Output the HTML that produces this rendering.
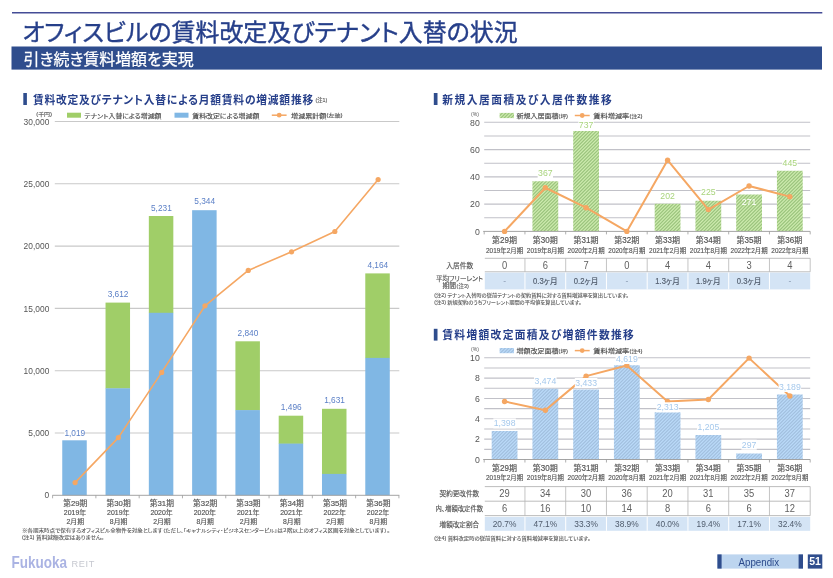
<!DOCTYPE html>
<html lang="ja"><head><meta charset="utf-8"><title>オフィスビルの賃料改定及びテナント入替の状況</title>
<style>html,body{margin:0;padding:0;background:#fff}body{width:833px;height:578px;overflow:hidden}svg{display:block}</style></head>
<body>
<svg width="833" height="578" viewBox="0 0 833 578" font-family='"Liberation Sans","Noto Sans CJK JP",sans-serif' style="font-feature-settings:'palt'">
<defs>
<pattern id="hg" width="34.0" height="34.0" patternUnits="userSpaceOnUse">
<rect width="34.0" height="34.0" fill="#cdebae"/><path d="M1.00,-1 L-1,1.00 M4.40,-1 L-1,4.40 M7.80,-1 L-1,7.80 M11.20,-1 L-1,11.20 M14.60,-1 L-1,14.60 M18.00,-1 L-1,18.00 M21.40,-1 L-1,21.40 M24.80,-1 L-1,24.80 M28.20,-1 L-1,28.20 M31.60,-1 L-1,31.60 M35.00,-1 L-1,35.00 M38.40,-1 L-1,38.40 M41.80,-1 L-1,41.80 M45.20,-1 L-1,45.20 M48.60,-1 L-1,48.60 M52.00,-1 L-1,52.00 M55.40,-1 L-1,55.40 M58.80,-1 L-1,58.80 M62.20,-1 L-1,62.20 M65.60,-1 L-1,65.60 M69.00,-1 L-1,69.00" stroke="#9bc47d" stroke-width="1.2"/></pattern>
<pattern id="hb" width="34.0" height="34.0" patternUnits="userSpaceOnUse">
<rect width="34.0" height="34.0" fill="#badaf9"/><path d="M1.00,-1 L-1,1.00 M4.40,-1 L-1,4.40 M7.80,-1 L-1,7.80 M11.20,-1 L-1,11.20 M14.60,-1 L-1,14.60 M18.00,-1 L-1,18.00 M21.40,-1 L-1,21.40 M24.80,-1 L-1,24.80 M28.20,-1 L-1,28.20 M31.60,-1 L-1,31.60 M35.00,-1 L-1,35.00 M38.40,-1 L-1,38.40 M41.80,-1 L-1,41.80 M45.20,-1 L-1,45.20 M48.60,-1 L-1,48.60 M52.00,-1 L-1,52.00 M55.40,-1 L-1,55.40 M58.80,-1 L-1,58.80 M62.20,-1 L-1,62.20 M65.60,-1 L-1,65.60 M69.00,-1 L-1,69.00" stroke="#a2c0df" stroke-width="1.2"/></pattern>
<filter id="bl" x="-1%" y="-5%" width="102%" height="110%"><feGaussianBlur stdDeviation="0.42"/></filter>
</defs>
<rect x="0.00" y="0.00" width="833.00" height="578.00" fill="#ffffff" />
<line x1="12.00" y1="12.70" x2="822.30" y2="12.70" stroke="#444c96" stroke-width="1.6" />
<text x="22.30" y="41.32" font-size="24" fill="#263f8a" textLength="495.50" lengthAdjust="spacingAndGlyphs" stroke="#263f8a" stroke-width="0.4">オフィスビルの賃料改定及びテナント入替の状況</text>
<rect x="11.50" y="46.50" width="810.50" height="23.10" fill="#2f4d8d" />
<text x="23.60" y="64.58" font-size="16" fill="#ffffff" textLength="170.00" lengthAdjust="spacingAndGlyphs" stroke="#ffffff" stroke-width="0.25">引き続き賃料増額を実現</text>
<rect x="23.30" y="93.00" width="3.60" height="12.00" fill="#2f4d8d" />
<text transform="translate(32.90 0) scale(0.92 1)" x="0" y="104.05" font-size="11.7" fill="#263f8a" font-weight="bold" textLength="304.67" lengthAdjust="spacing">賃料改定及びテナント入替による月額賃料の増減額推移</text>
<text x="315.40" y="102.18" font-size="5.2" fill="#555555" textLength="12.00" lengthAdjust="spacingAndGlyphs"  stroke="#555555" stroke-width="0.11">(注1)</text>
<text transform="translate(49.30 0) scale(0.97 1)" x="0" y="498.47" font-size="8.67" fill="#555555" text-anchor="end">0</text>
<line x1="54.80" y1="433.00" x2="399.30" y2="433.00" stroke="#c9c9c9" stroke-width="1.1" />
<text transform="translate(49.30 0) scale(0.97 1)" x="0" y="436.17" font-size="8.67" fill="#555555" text-anchor="end">5,000</text>
<line x1="54.80" y1="370.70" x2="399.30" y2="370.70" stroke="#c9c9c9" stroke-width="1.1" />
<text transform="translate(49.30 0) scale(0.97 1)" x="0" y="373.87" font-size="8.67" fill="#555555" text-anchor="end">10,000</text>
<line x1="54.80" y1="308.40" x2="399.30" y2="308.40" stroke="#c9c9c9" stroke-width="1.1" />
<text transform="translate(49.30 0) scale(0.97 1)" x="0" y="311.57" font-size="8.67" fill="#555555" text-anchor="end">15,000</text>
<line x1="54.80" y1="246.10" x2="399.30" y2="246.10" stroke="#c9c9c9" stroke-width="1.1" />
<text transform="translate(49.30 0) scale(0.97 1)" x="0" y="249.27" font-size="8.67" fill="#555555" text-anchor="end">20,000</text>
<line x1="54.80" y1="183.80" x2="399.30" y2="183.80" stroke="#c9c9c9" stroke-width="1.1" />
<text transform="translate(49.30 0) scale(0.97 1)" x="0" y="186.97" font-size="8.67" fill="#555555" text-anchor="end">25,000</text>
<line x1="54.80" y1="121.50" x2="399.30" y2="121.50" stroke="#c9c9c9" stroke-width="1.1" />
<text transform="translate(49.30 0) scale(0.97 1)" x="0" y="124.67" font-size="8.67" fill="#555555" text-anchor="end">30,000</text>
<text x="44.10" y="115.50" font-size="5" fill="#555555" text-anchor="middle" textLength="15.80" lengthAdjust="spacingAndGlyphs"  stroke="#555555" stroke-width="0.11">(千円)</text>
<rect x="67.00" y="112.70" width="14.00" height="5.00" fill="#a0ce68" />
<text x="84.40" y="117.56" font-size="6.2" fill="#4a4a4a" textLength="77.00" lengthAdjust="spacingAndGlyphs"  stroke="#4a4a4a" stroke-width="0.14">テナント入替による増減額</text>
<rect x="174.50" y="112.70" width="14.00" height="5.00" fill="#80b7e4" />
<text x="192.30" y="117.56" font-size="6.2" fill="#4a4a4a" textLength="67.00" lengthAdjust="spacingAndGlyphs"  stroke="#4a4a4a" stroke-width="0.14">賃料改定による増減額</text>
<line x1="271.80" y1="115.20" x2="286.60" y2="115.20" stroke="#f5a763" stroke-width="1.5" />
<circle cx="279.2" cy="115.2" r="2.4" fill="#f5a763"/>
<text x="291.10" y="117.56" font-size="6.2" fill="#4a4a4a" textLength="35.20" lengthAdjust="spacingAndGlyphs"  stroke="#4a4a4a" stroke-width="0.14">増減累計額</text>
<text x="326.60" y="117.32" font-size="4.8" fill="#4a4a4a" textLength="16.00" lengthAdjust="spacingAndGlyphs"  stroke="#4a4a4a" stroke-width="0.11">(左軸)</text>
<rect x="62.25" y="440.30" width="24.50" height="55.00" fill="#80b7e4" />
<rect x="105.54" y="302.60" width="24.50" height="86.00" fill="#a0ce68" />
<rect x="105.54" y="388.30" width="24.50" height="107.00" fill="#80b7e4" />
<rect x="148.83" y="216.00" width="24.50" height="97.10" fill="#a0ce68" />
<rect x="148.83" y="312.80" width="24.50" height="182.50" fill="#80b7e4" />
<rect x="192.12" y="210.20" width="24.50" height="285.10" fill="#80b7e4" />
<rect x="235.41" y="341.30" width="24.50" height="69.10" fill="#a0ce68" />
<rect x="235.41" y="410.10" width="24.50" height="85.20" fill="#80b7e4" />
<rect x="278.70" y="415.70" width="24.50" height="28.20" fill="#a0ce68" />
<rect x="278.70" y="443.60" width="24.50" height="51.70" fill="#80b7e4" />
<rect x="321.99" y="408.80" width="24.50" height="65.40" fill="#a0ce68" />
<rect x="321.99" y="473.90" width="24.50" height="21.40" fill="#80b7e4" />
<rect x="365.28" y="273.40" width="24.50" height="84.80" fill="#a0ce68" />
<rect x="365.28" y="357.90" width="24.50" height="137.40" fill="#80b7e4" />
<line x1="52.40" y1="495.30" x2="399.30" y2="495.30" stroke="#9a9a9a" stroke-width="0.9" />
<line x1="52.60" y1="495.30" x2="52.60" y2="498.30" stroke="#9a9a9a" stroke-width="0.8" />
<line x1="95.89" y1="495.30" x2="95.89" y2="498.30" stroke="#9a9a9a" stroke-width="0.8" />
<line x1="139.18" y1="495.30" x2="139.18" y2="498.30" stroke="#9a9a9a" stroke-width="0.8" />
<line x1="182.47" y1="495.30" x2="182.47" y2="498.30" stroke="#9a9a9a" stroke-width="0.8" />
<line x1="225.76" y1="495.30" x2="225.76" y2="498.30" stroke="#9a9a9a" stroke-width="0.8" />
<line x1="269.05" y1="495.30" x2="269.05" y2="498.30" stroke="#9a9a9a" stroke-width="0.8" />
<line x1="312.34" y1="495.30" x2="312.34" y2="498.30" stroke="#9a9a9a" stroke-width="0.8" />
<line x1="355.63" y1="495.30" x2="355.63" y2="498.30" stroke="#9a9a9a" stroke-width="0.8" />
<line x1="398.92" y1="495.30" x2="398.92" y2="498.30" stroke="#9a9a9a" stroke-width="0.8" />
<polyline fill="none" stroke="#f5a763" stroke-width="1.6" stroke-linejoin="round" points="75.10,482.60 118.39,437.60 161.68,372.42 204.97,305.83 248.26,270.45 291.55,251.81 334.84,231.48 378.13,179.60"/>
<circle cx="75.10" cy="482.60" r="2.6" fill="#f5a763"/>
<circle cx="118.39" cy="437.60" r="2.6" fill="#f5a763"/>
<circle cx="161.68" cy="372.42" r="2.6" fill="#f5a763"/>
<circle cx="204.97" cy="305.83" r="2.6" fill="#f5a763"/>
<circle cx="248.26" cy="270.45" r="2.6" fill="#f5a763"/>
<circle cx="291.55" cy="251.81" r="2.6" fill="#f5a763"/>
<circle cx="334.84" cy="231.48" r="2.6" fill="#f5a763"/>
<circle cx="378.13" cy="179.60" r="2.6" fill="#f5a763"/>
<rect x="64.30" y="428.80" width="20.40" height="8.00" fill="#ffffff" />
<text transform="translate(74.80 0) scale(0.97 1)" x="0" y="435.74" font-size="8.57" fill="#5a7fc6" text-anchor="middle">1,019</text>
<text transform="translate(118.09 0) scale(0.97 1)" x="0" y="296.54" font-size="8.57" fill="#5a7fc6" text-anchor="middle">3,612</text>
<text transform="translate(161.38 0) scale(0.97 1)" x="0" y="210.94" font-size="8.57" fill="#5a7fc6" text-anchor="middle">5,231</text>
<text transform="translate(204.67 0) scale(0.97 1)" x="0" y="204.24" font-size="8.57" fill="#5a7fc6" text-anchor="middle">5,344</text>
<text transform="translate(247.96 0) scale(0.97 1)" x="0" y="335.64" font-size="8.57" fill="#5a7fc6" text-anchor="middle">2,840</text>
<text transform="translate(291.25 0) scale(0.97 1)" x="0" y="409.94" font-size="8.57" fill="#5a7fc6" text-anchor="middle">1,496</text>
<text transform="translate(334.54 0) scale(0.97 1)" x="0" y="403.14" font-size="8.57" fill="#5a7fc6" text-anchor="middle">1,631</text>
<text transform="translate(377.83 0) scale(0.97 1)" x="0" y="267.64" font-size="8.57" fill="#5a7fc6" text-anchor="middle">4,164</text>
<text x="75.30" y="506.44" font-size="8" fill="#555555" text-anchor="middle" textLength="24.20" lengthAdjust="spacingAndGlyphs"  stroke="#555555" stroke-width="0.18">第29期</text>
<text x="75.00" y="514.97" font-size="7.3" fill="#555555" text-anchor="middle" textLength="22.40" lengthAdjust="spacingAndGlyphs"  stroke="#555555" stroke-width="0.16">2019年</text>
<text x="75.30" y="523.66" font-size="7" fill="#555555" text-anchor="middle" textLength="17.50" lengthAdjust="spacingAndGlyphs"  stroke="#555555" stroke-width="0.15">2月期</text>
<text x="118.59" y="506.44" font-size="8" fill="#555555" text-anchor="middle" textLength="24.20" lengthAdjust="spacingAndGlyphs"  stroke="#555555" stroke-width="0.18">第30期</text>
<text x="118.29" y="514.97" font-size="7.3" fill="#555555" text-anchor="middle" textLength="22.40" lengthAdjust="spacingAndGlyphs"  stroke="#555555" stroke-width="0.16">2019年</text>
<text x="118.59" y="523.66" font-size="7" fill="#555555" text-anchor="middle" textLength="17.50" lengthAdjust="spacingAndGlyphs"  stroke="#555555" stroke-width="0.15">8月期</text>
<text x="161.88" y="506.44" font-size="8" fill="#555555" text-anchor="middle" textLength="24.20" lengthAdjust="spacingAndGlyphs"  stroke="#555555" stroke-width="0.18">第31期</text>
<text x="161.58" y="514.97" font-size="7.3" fill="#555555" text-anchor="middle" textLength="22.40" lengthAdjust="spacingAndGlyphs"  stroke="#555555" stroke-width="0.16">2020年</text>
<text x="161.88" y="523.66" font-size="7" fill="#555555" text-anchor="middle" textLength="17.50" lengthAdjust="spacingAndGlyphs"  stroke="#555555" stroke-width="0.15">2月期</text>
<text x="205.17" y="506.44" font-size="8" fill="#555555" text-anchor="middle" textLength="24.20" lengthAdjust="spacingAndGlyphs"  stroke="#555555" stroke-width="0.18">第32期</text>
<text x="204.87" y="514.97" font-size="7.3" fill="#555555" text-anchor="middle" textLength="22.40" lengthAdjust="spacingAndGlyphs"  stroke="#555555" stroke-width="0.16">2020年</text>
<text x="205.17" y="523.66" font-size="7" fill="#555555" text-anchor="middle" textLength="17.50" lengthAdjust="spacingAndGlyphs"  stroke="#555555" stroke-width="0.15">8月期</text>
<text x="248.46" y="506.44" font-size="8" fill="#555555" text-anchor="middle" textLength="24.20" lengthAdjust="spacingAndGlyphs"  stroke="#555555" stroke-width="0.18">第33期</text>
<text x="248.16" y="514.97" font-size="7.3" fill="#555555" text-anchor="middle" textLength="22.40" lengthAdjust="spacingAndGlyphs"  stroke="#555555" stroke-width="0.16">2021年</text>
<text x="248.46" y="523.66" font-size="7" fill="#555555" text-anchor="middle" textLength="17.50" lengthAdjust="spacingAndGlyphs"  stroke="#555555" stroke-width="0.15">2月期</text>
<text x="291.75" y="506.44" font-size="8" fill="#555555" text-anchor="middle" textLength="24.20" lengthAdjust="spacingAndGlyphs"  stroke="#555555" stroke-width="0.18">第34期</text>
<text x="291.45" y="514.97" font-size="7.3" fill="#555555" text-anchor="middle" textLength="22.40" lengthAdjust="spacingAndGlyphs"  stroke="#555555" stroke-width="0.16">2021年</text>
<text x="291.75" y="523.66" font-size="7" fill="#555555" text-anchor="middle" textLength="17.50" lengthAdjust="spacingAndGlyphs"  stroke="#555555" stroke-width="0.15">8月期</text>
<text x="335.04" y="506.44" font-size="8" fill="#555555" text-anchor="middle" textLength="24.20" lengthAdjust="spacingAndGlyphs"  stroke="#555555" stroke-width="0.18">第35期</text>
<text x="334.74" y="514.97" font-size="7.3" fill="#555555" text-anchor="middle" textLength="22.40" lengthAdjust="spacingAndGlyphs"  stroke="#555555" stroke-width="0.16">2022年</text>
<text x="335.04" y="523.66" font-size="7" fill="#555555" text-anchor="middle" textLength="17.50" lengthAdjust="spacingAndGlyphs"  stroke="#555555" stroke-width="0.15">2月期</text>
<text x="378.33" y="506.44" font-size="8" fill="#555555" text-anchor="middle" textLength="24.20" lengthAdjust="spacingAndGlyphs"  stroke="#555555" stroke-width="0.18">第36期</text>
<text x="378.03" y="514.97" font-size="7.3" fill="#555555" text-anchor="middle" textLength="22.40" lengthAdjust="spacingAndGlyphs"  stroke="#555555" stroke-width="0.16">2022年</text>
<text x="378.33" y="523.66" font-size="7" fill="#555555" text-anchor="middle" textLength="17.50" lengthAdjust="spacingAndGlyphs"  stroke="#555555" stroke-width="0.15">8月期</text>
<text x="22.00" y="532.49" font-size="4.7" fill="#555555" textLength="368.00" lengthAdjust="spacingAndGlyphs"  stroke="#555555" stroke-width="0.10">※各期末時点で保有するオフィスビル全物件を対象とします（ただし、「キャナルシティ・ビジネスセンタービル」は２階以上のオフィス区画を対象としています）。</text>
<text x="22.00" y="539.29" font-size="4.7" fill="#555555" textLength="82.00" lengthAdjust="spacingAndGlyphs"  stroke="#555555" stroke-width="0.10">(注1) 賃料減額改定はありません。</text>
<rect x="433.80" y="93.00" width="3.70" height="12.00" fill="#2f4d8d" />
<text transform="translate(442.30 0) scale(0.92 1)" x="0" y="103.85" font-size="11.7" fill="#263f8a" font-weight="bold" textLength="184.24" lengthAdjust="spacing">新規入居面積及び入居件数推移</text>
<text transform="translate(479.80 0) scale(0.97 1)" x="0" y="234.68" font-size="8.99" fill="#555555" text-anchor="end">0</text>
<line x1="484.20" y1="217.77" x2="810.20" y2="217.77" stroke="#c1c1c8" stroke-width="1.1" />
<line x1="484.20" y1="204.13" x2="810.20" y2="204.13" stroke="#c1c1c8" stroke-width="1.1" />
<text transform="translate(479.80 0) scale(0.97 1)" x="0" y="207.41" font-size="8.99" fill="#555555" text-anchor="end">20</text>
<line x1="484.20" y1="190.50" x2="810.20" y2="190.50" stroke="#c1c1c8" stroke-width="1.1" />
<line x1="484.20" y1="176.86" x2="810.20" y2="176.86" stroke="#c1c1c8" stroke-width="1.1" />
<text transform="translate(479.80 0) scale(0.97 1)" x="0" y="180.14" font-size="8.99" fill="#555555" text-anchor="end">40</text>
<line x1="484.20" y1="163.23" x2="810.20" y2="163.23" stroke="#c1c1c8" stroke-width="1.1" />
<line x1="484.20" y1="149.59" x2="810.20" y2="149.59" stroke="#c1c1c8" stroke-width="1.1" />
<text transform="translate(479.80 0) scale(0.97 1)" x="0" y="152.87" font-size="8.99" fill="#555555" text-anchor="end">60</text>
<line x1="484.20" y1="135.96" x2="810.20" y2="135.96" stroke="#c1c1c8" stroke-width="1.1" />
<line x1="484.20" y1="122.32" x2="810.20" y2="122.32" stroke="#c1c1c8" stroke-width="1.1" />
<text transform="translate(479.80 0) scale(0.97 1)" x="0" y="125.60" font-size="8.99" fill="#555555" text-anchor="end">80</text>
<text transform="translate(475.00 0) scale(0.97 1)" x="0" y="116.29" font-size="5.22" fill="#555555" text-anchor="middle">(%)</text>
<rect x="499.60" y="112.90" width="14.40" height="5.20" fill="url(#hg)" />
<text x="516.40" y="117.86" font-size="6.2" fill="#4a4a4a" textLength="42.00" lengthAdjust="spacingAndGlyphs"  stroke="#4a4a4a" stroke-width="0.14">新規入居面積</text>
<text x="558.60" y="117.62" font-size="4.8" fill="#4a4a4a" textLength="9.40" lengthAdjust="spacingAndGlyphs"  stroke="#4a4a4a" stroke-width="0.11">(坪)</text>
<line x1="574.80" y1="115.50" x2="589.70" y2="115.50" stroke="#f5a763" stroke-width="1.5" />
<circle cx="582.2" cy="115.5" r="2.4" fill="#f5a763"/>
<text x="593.30" y="117.86" font-size="6.2" fill="#4a4a4a" textLength="36.00" lengthAdjust="spacingAndGlyphs"  stroke="#4a4a4a" stroke-width="0.14">賃料増減率</text>
<text x="629.50" y="117.62" font-size="4.8" fill="#4a4a4a" textLength="13.00" lengthAdjust="spacingAndGlyphs"  stroke="#4a4a4a" stroke-width="0.11">(注2)</text>
<clipPath id="cb1">
<rect x="532.43" y="181.36" width="25.80" height="50.04" fill="#000" />
<rect x="573.18" y="130.91" width="25.80" height="100.49" fill="#000" />
<rect x="654.68" y="203.86" width="25.80" height="27.54" fill="#000" />
<rect x="695.43" y="200.72" width="25.80" height="30.68" fill="#000" />
<rect x="736.18" y="194.45" width="25.80" height="36.95" fill="#000" />
<rect x="776.93" y="170.72" width="25.80" height="60.68" fill="#000" />
</clipPath>
<g clip-path="url(#cb1)"><rect x="484.2" y="120" width="326.00000000000006" height="111.4" fill="url(#hg)" filter="url(#bl)"/></g>
<line x1="483.20" y1="231.40" x2="810.20" y2="231.40" stroke="#9a9a9a" stroke-width="0.9" />
<line x1="484.20" y1="231.40" x2="484.20" y2="234.40" stroke="#9a9a9a" stroke-width="0.8" />
<line x1="524.95" y1="231.40" x2="524.95" y2="234.40" stroke="#9a9a9a" stroke-width="0.8" />
<line x1="565.70" y1="231.40" x2="565.70" y2="234.40" stroke="#9a9a9a" stroke-width="0.8" />
<line x1="606.45" y1="231.40" x2="606.45" y2="234.40" stroke="#9a9a9a" stroke-width="0.8" />
<line x1="647.20" y1="231.40" x2="647.20" y2="234.40" stroke="#9a9a9a" stroke-width="0.8" />
<line x1="687.95" y1="231.40" x2="687.95" y2="234.40" stroke="#9a9a9a" stroke-width="0.8" />
<line x1="728.70" y1="231.40" x2="728.70" y2="234.40" stroke="#9a9a9a" stroke-width="0.8" />
<line x1="769.45" y1="231.40" x2="769.45" y2="234.40" stroke="#9a9a9a" stroke-width="0.8" />
<line x1="810.20" y1="231.40" x2="810.20" y2="234.40" stroke="#9a9a9a" stroke-width="0.8" />
<polyline fill="none" stroke="#f5a763" stroke-width="2" stroke-linejoin="round" points="504.57,231.40 545.33,187.77 586.08,207.68 626.83,231.40 667.58,160.23 708.33,209.58 749.08,186.00 789.83,196.63"/>
<circle cx="504.57" cy="231.40" r="2.7" fill="#f5a763"/>
<circle cx="545.33" cy="187.77" r="2.7" fill="#f5a763"/>
<circle cx="586.08" cy="207.68" r="2.7" fill="#f5a763"/>
<circle cx="626.83" cy="231.40" r="2.7" fill="#f5a763"/>
<circle cx="667.58" cy="160.23" r="2.7" fill="#f5a763"/>
<circle cx="708.33" cy="209.58" r="2.7" fill="#f5a763"/>
<circle cx="749.08" cy="186.00" r="2.7" fill="#f5a763"/>
<circle cx="789.83" cy="196.63" r="2.7" fill="#f5a763"/>
<rect x="537.65" y="168.20" width="15.34" height="10.00" fill="#ffffff" />
<text transform="translate(545.33 0) scale(0.97 1)" x="0" y="176.28" font-size="8.99" fill="#a9d47d" text-anchor="middle">367</text>
<rect x="578.40" y="120.30" width="15.34" height="10.00" fill="#ffffff" />
<text transform="translate(586.08 0) scale(0.97 1)" x="0" y="128.38" font-size="8.99" fill="#a9d47d" text-anchor="middle">737</text>
<rect x="659.90" y="191.00" width="15.34" height="10.00" fill="#ffffff" />
<text transform="translate(667.58 0) scale(0.97 1)" x="0" y="199.08" font-size="8.99" fill="#a9d47d" text-anchor="middle">202</text>
<rect x="700.65" y="187.40" width="15.34" height="10.00" fill="#ffffff" />
<text transform="translate(708.33 0) scale(0.97 1)" x="0" y="195.48" font-size="8.99" fill="#a9d47d" text-anchor="middle">225</text>
<rect x="782.15" y="157.80" width="15.34" height="10.00" fill="#ffffff" />
<text transform="translate(789.83 0) scale(0.97 1)" x="0" y="165.88" font-size="8.99" fill="#a9d47d" text-anchor="middle">445</text>
<text transform="translate(749.08 0) scale(0.97 1)" x="0" y="204.78" font-size="8.99" fill="#ffffff" text-anchor="middle">271</text>
<text x="504.57" y="242.99" font-size="8.4" fill="#555555" text-anchor="middle" textLength="25.00" lengthAdjust="spacingAndGlyphs"  stroke="#555555" stroke-width="0.18">第29期</text>
<text x="504.57" y="252.63" font-size="6.4" fill="#555555" text-anchor="middle" textLength="37.00" lengthAdjust="spacingAndGlyphs"  stroke="#555555" stroke-width="0.14">2019年2月期</text>
<text x="545.33" y="242.99" font-size="8.4" fill="#555555" text-anchor="middle" textLength="25.00" lengthAdjust="spacingAndGlyphs"  stroke="#555555" stroke-width="0.18">第30期</text>
<text x="545.33" y="252.63" font-size="6.4" fill="#555555" text-anchor="middle" textLength="37.00" lengthAdjust="spacingAndGlyphs"  stroke="#555555" stroke-width="0.14">2019年8月期</text>
<text x="586.08" y="242.99" font-size="8.4" fill="#555555" text-anchor="middle" textLength="25.00" lengthAdjust="spacingAndGlyphs"  stroke="#555555" stroke-width="0.18">第31期</text>
<text x="586.08" y="252.63" font-size="6.4" fill="#555555" text-anchor="middle" textLength="37.00" lengthAdjust="spacingAndGlyphs"  stroke="#555555" stroke-width="0.14">2020年2月期</text>
<text x="626.83" y="242.99" font-size="8.4" fill="#555555" text-anchor="middle" textLength="25.00" lengthAdjust="spacingAndGlyphs"  stroke="#555555" stroke-width="0.18">第32期</text>
<text x="626.83" y="252.63" font-size="6.4" fill="#555555" text-anchor="middle" textLength="37.00" lengthAdjust="spacingAndGlyphs"  stroke="#555555" stroke-width="0.14">2020年8月期</text>
<text x="667.58" y="242.99" font-size="8.4" fill="#555555" text-anchor="middle" textLength="25.00" lengthAdjust="spacingAndGlyphs"  stroke="#555555" stroke-width="0.18">第33期</text>
<text x="667.58" y="252.63" font-size="6.4" fill="#555555" text-anchor="middle" textLength="37.00" lengthAdjust="spacingAndGlyphs"  stroke="#555555" stroke-width="0.14">2021年2月期</text>
<text x="708.33" y="242.99" font-size="8.4" fill="#555555" text-anchor="middle" textLength="25.00" lengthAdjust="spacingAndGlyphs"  stroke="#555555" stroke-width="0.18">第34期</text>
<text x="708.33" y="252.63" font-size="6.4" fill="#555555" text-anchor="middle" textLength="37.00" lengthAdjust="spacingAndGlyphs"  stroke="#555555" stroke-width="0.14">2021年8月期</text>
<text x="749.08" y="242.99" font-size="8.4" fill="#555555" text-anchor="middle" textLength="25.00" lengthAdjust="spacingAndGlyphs"  stroke="#555555" stroke-width="0.18">第35期</text>
<text x="749.08" y="252.63" font-size="6.4" fill="#555555" text-anchor="middle" textLength="37.00" lengthAdjust="spacingAndGlyphs"  stroke="#555555" stroke-width="0.14">2022年2月期</text>
<text x="789.83" y="242.99" font-size="8.4" fill="#555555" text-anchor="middle" textLength="25.00" lengthAdjust="spacingAndGlyphs"  stroke="#555555" stroke-width="0.18">第36期</text>
<text x="789.83" y="252.63" font-size="6.4" fill="#555555" text-anchor="middle" textLength="37.00" lengthAdjust="spacingAndGlyphs"  stroke="#555555" stroke-width="0.14">2022年8月期</text>
<line x1="484.80" y1="258.30" x2="810.20" y2="258.30" stroke="#b5b5b5" stroke-width="0.9" />
<line x1="484.80" y1="271.80" x2="810.20" y2="271.80" stroke="#b5b5b5" stroke-width="0.9" />
<rect x="484.80" y="272.60" width="325.40" height="16.80" fill="#d4e4f5" />
<line x1="524.95" y1="258.30" x2="524.95" y2="271.80" stroke="#b5b5b5" stroke-width="0.8" />
<line x1="524.95" y1="272.60" x2="524.95" y2="289.40" stroke="#ffffff" stroke-width="1" />
<line x1="565.70" y1="258.30" x2="565.70" y2="271.80" stroke="#b5b5b5" stroke-width="0.8" />
<line x1="565.70" y1="272.60" x2="565.70" y2="289.40" stroke="#ffffff" stroke-width="1" />
<line x1="606.45" y1="258.30" x2="606.45" y2="271.80" stroke="#b5b5b5" stroke-width="0.8" />
<line x1="606.45" y1="272.60" x2="606.45" y2="289.40" stroke="#ffffff" stroke-width="1" />
<line x1="647.20" y1="258.30" x2="647.20" y2="271.80" stroke="#b5b5b5" stroke-width="0.8" />
<line x1="647.20" y1="272.60" x2="647.20" y2="289.40" stroke="#ffffff" stroke-width="1" />
<line x1="687.95" y1="258.30" x2="687.95" y2="271.80" stroke="#b5b5b5" stroke-width="0.8" />
<line x1="687.95" y1="272.60" x2="687.95" y2="289.40" stroke="#ffffff" stroke-width="1" />
<line x1="728.70" y1="258.30" x2="728.70" y2="271.80" stroke="#b5b5b5" stroke-width="0.8" />
<line x1="728.70" y1="272.60" x2="728.70" y2="289.40" stroke="#ffffff" stroke-width="1" />
<line x1="769.45" y1="258.30" x2="769.45" y2="271.80" stroke="#b5b5b5" stroke-width="0.8" />
<line x1="769.45" y1="272.60" x2="769.45" y2="289.40" stroke="#ffffff" stroke-width="1" />
<line x1="810.20" y1="258.30" x2="810.20" y2="271.80" stroke="#b5b5b5" stroke-width="0.8" />
<text x="459.80" y="268.18" font-size="6.8" fill="#555555" text-anchor="middle" textLength="27.00" lengthAdjust="spacingAndGlyphs"  stroke="#555555" stroke-width="0.15">入居件数</text>
<text x="459.50" y="280.88" font-size="6.8" fill="#555555" text-anchor="middle" textLength="47.00" lengthAdjust="spacingAndGlyphs"  stroke="#555555" stroke-width="0.15">平均フリーレント</text>
<text x="449.30" y="287.88" font-size="6.8" fill="#555555" text-anchor="middle"  stroke="#555555" stroke-width="0.15">期間</text>
<text x="456.60" y="287.58" font-size="5.2" fill="#555555" textLength="12.20" lengthAdjust="spacingAndGlyphs"  stroke="#555555" stroke-width="0.11">(注3)</text>
<text transform="translate(504.57 0) scale(0.92 1)" x="0" y="269.05" font-size="10.2" fill="#606060" text-anchor="middle">0</text>
<text transform="translate(504.57 0) scale(0.97 1)" x="0" y="283.51" font-size="8.78" fill="#8c9db3" text-anchor="middle">-</text>
<text transform="translate(545.33 0) scale(0.92 1)" x="0" y="269.05" font-size="10.2" fill="#606060" text-anchor="middle">6</text>
<text x="545.33" y="284.09" font-size="8.4" fill="#556070" text-anchor="middle" textLength="24.50" lengthAdjust="spacingAndGlyphs"  stroke="#556070" stroke-width="0.18">0.3ヶ月</text>
<text transform="translate(586.08 0) scale(0.92 1)" x="0" y="269.05" font-size="10.2" fill="#606060" text-anchor="middle">7</text>
<text x="586.08" y="284.09" font-size="8.4" fill="#556070" text-anchor="middle" textLength="24.50" lengthAdjust="spacingAndGlyphs"  stroke="#556070" stroke-width="0.18">0.2ヶ月</text>
<text transform="translate(626.83 0) scale(0.92 1)" x="0" y="269.05" font-size="10.2" fill="#606060" text-anchor="middle">0</text>
<text transform="translate(626.83 0) scale(0.97 1)" x="0" y="283.51" font-size="8.78" fill="#8c9db3" text-anchor="middle">-</text>
<text transform="translate(667.58 0) scale(0.92 1)" x="0" y="269.05" font-size="10.2" fill="#606060" text-anchor="middle">4</text>
<text x="667.58" y="284.09" font-size="8.4" fill="#556070" text-anchor="middle" textLength="24.50" lengthAdjust="spacingAndGlyphs"  stroke="#556070" stroke-width="0.18">1.3ヶ月</text>
<text transform="translate(708.33 0) scale(0.92 1)" x="0" y="269.05" font-size="10.2" fill="#606060" text-anchor="middle">4</text>
<text x="708.33" y="284.09" font-size="8.4" fill="#556070" text-anchor="middle" textLength="24.50" lengthAdjust="spacingAndGlyphs"  stroke="#556070" stroke-width="0.18">1.9ヶ月</text>
<text transform="translate(749.08 0) scale(0.92 1)" x="0" y="269.05" font-size="10.2" fill="#606060" text-anchor="middle">3</text>
<text x="749.08" y="284.09" font-size="8.4" fill="#556070" text-anchor="middle" textLength="24.50" lengthAdjust="spacingAndGlyphs"  stroke="#556070" stroke-width="0.18">0.3ヶ月</text>
<text transform="translate(789.83 0) scale(0.92 1)" x="0" y="269.05" font-size="10.2" fill="#606060" text-anchor="middle">4</text>
<text transform="translate(789.83 0) scale(0.97 1)" x="0" y="283.51" font-size="8.78" fill="#8c9db3" text-anchor="middle">-</text>
<text x="434.30" y="297.02" font-size="4.8" fill="#555555" textLength="194.50" lengthAdjust="spacingAndGlyphs"  stroke="#555555" stroke-width="0.11">(注2) テナント入替時の従前テナントの契約賃料に対する賃料増減率を算出しています。</text>
<text x="434.30" y="304.12" font-size="4.8" fill="#555555" textLength="147.00" lengthAdjust="spacingAndGlyphs"  stroke="#555555" stroke-width="0.11">(注3) 新規契約のうちフリーレント期間の平均値を算出しています。</text>
<rect x="433.80" y="328.80" width="3.70" height="11.80" fill="#2f4d8d" />
<text transform="translate(442.30 0) scale(0.92 1)" x="0" y="339.15" font-size="11.7" fill="#263f8a" font-weight="bold" textLength="208.15" lengthAdjust="spacing">賃料増額改定面積及び増額件数推移</text>
<text transform="translate(479.80 0) scale(0.97 1)" x="0" y="462.78" font-size="8.99" fill="#555555" text-anchor="end">0</text>
<line x1="484.20" y1="449.33" x2="810.20" y2="449.33" stroke="#c1c1c8" stroke-width="1.1" />
<line x1="484.20" y1="439.16" x2="810.20" y2="439.16" stroke="#c1c1c8" stroke-width="1.1" />
<text transform="translate(479.80 0) scale(0.97 1)" x="0" y="442.44" font-size="8.99" fill="#555555" text-anchor="end">2</text>
<line x1="484.20" y1="428.99" x2="810.20" y2="428.99" stroke="#c1c1c8" stroke-width="1.1" />
<line x1="484.20" y1="418.82" x2="810.20" y2="418.82" stroke="#c1c1c8" stroke-width="1.1" />
<text transform="translate(479.80 0) scale(0.97 1)" x="0" y="422.10" font-size="8.99" fill="#555555" text-anchor="end">4</text>
<line x1="484.20" y1="408.65" x2="810.20" y2="408.65" stroke="#c1c1c8" stroke-width="1.1" />
<line x1="484.20" y1="398.48" x2="810.20" y2="398.48" stroke="#c1c1c8" stroke-width="1.1" />
<text transform="translate(479.80 0) scale(0.97 1)" x="0" y="401.76" font-size="8.99" fill="#555555" text-anchor="end">6</text>
<line x1="484.20" y1="388.31" x2="810.20" y2="388.31" stroke="#c1c1c8" stroke-width="1.1" />
<line x1="484.20" y1="378.14" x2="810.20" y2="378.14" stroke="#c1c1c8" stroke-width="1.1" />
<text transform="translate(479.80 0) scale(0.97 1)" x="0" y="381.42" font-size="8.99" fill="#555555" text-anchor="end">8</text>
<line x1="484.20" y1="367.97" x2="810.20" y2="367.97" stroke="#c1c1c8" stroke-width="1.1" />
<line x1="484.20" y1="357.80" x2="810.20" y2="357.80" stroke="#c1c1c8" stroke-width="1.1" />
<text transform="translate(479.80 0) scale(0.97 1)" x="0" y="361.08" font-size="8.99" fill="#555555" text-anchor="end">10</text>
<text transform="translate(475.00 0) scale(0.97 1)" x="0" y="351.29" font-size="5.22" fill="#555555" text-anchor="middle">(%)</text>
<rect x="499.60" y="348.00" width="14.40" height="5.20" fill="url(#hb)" />
<text x="516.40" y="352.96" font-size="6.2" fill="#4a4a4a" textLength="42.00" lengthAdjust="spacingAndGlyphs"  stroke="#4a4a4a" stroke-width="0.14">増額改定面積</text>
<text x="558.60" y="352.72" font-size="4.8" fill="#4a4a4a" textLength="9.40" lengthAdjust="spacingAndGlyphs"  stroke="#4a4a4a" stroke-width="0.11">(坪)</text>
<line x1="574.80" y1="350.60" x2="589.70" y2="350.60" stroke="#f5a763" stroke-width="1.5" />
<circle cx="582.2" cy="350.6" r="2.4" fill="#f5a763"/>
<text x="593.30" y="352.96" font-size="6.2" fill="#4a4a4a" textLength="36.00" lengthAdjust="spacingAndGlyphs"  stroke="#4a4a4a" stroke-width="0.14">賃料増減率</text>
<text x="629.50" y="352.72" font-size="4.8" fill="#4a4a4a" textLength="13.00" lengthAdjust="spacingAndGlyphs"  stroke="#4a4a4a" stroke-width="0.11">(注4)</text>
<clipPath id="cb2">
<rect x="491.68" y="430.98" width="25.80" height="28.52" fill="#000" />
<rect x="532.43" y="388.63" width="25.80" height="70.87" fill="#000" />
<rect x="573.18" y="389.47" width="25.80" height="70.03" fill="#000" />
<rect x="613.93" y="365.27" width="25.80" height="94.23" fill="#000" />
<rect x="654.68" y="412.31" width="25.80" height="47.19" fill="#000" />
<rect x="695.43" y="434.92" width="25.80" height="24.58" fill="#000" />
<rect x="736.18" y="453.44" width="25.80" height="6.06" fill="#000" />
<rect x="776.93" y="394.44" width="25.80" height="65.06" fill="#000" />
</clipPath>
<g clip-path="url(#cb2)"><rect x="484.2" y="355" width="326.00000000000006" height="104.5" fill="url(#hb)" filter="url(#bl)"/></g>
<line x1="483.20" y1="459.50" x2="810.20" y2="459.50" stroke="#9a9a9a" stroke-width="0.9" />
<line x1="484.20" y1="459.50" x2="484.20" y2="462.50" stroke="#9a9a9a" stroke-width="0.8" />
<line x1="524.95" y1="459.50" x2="524.95" y2="462.50" stroke="#9a9a9a" stroke-width="0.8" />
<line x1="565.70" y1="459.50" x2="565.70" y2="462.50" stroke="#9a9a9a" stroke-width="0.8" />
<line x1="606.45" y1="459.50" x2="606.45" y2="462.50" stroke="#9a9a9a" stroke-width="0.8" />
<line x1="647.20" y1="459.50" x2="647.20" y2="462.50" stroke="#9a9a9a" stroke-width="0.8" />
<line x1="687.95" y1="459.50" x2="687.95" y2="462.50" stroke="#9a9a9a" stroke-width="0.8" />
<line x1="728.70" y1="459.50" x2="728.70" y2="462.50" stroke="#9a9a9a" stroke-width="0.8" />
<line x1="769.45" y1="459.50" x2="769.45" y2="462.50" stroke="#9a9a9a" stroke-width="0.8" />
<line x1="810.20" y1="459.50" x2="810.20" y2="462.50" stroke="#9a9a9a" stroke-width="0.8" />
<polyline fill="none" stroke="#f5a763" stroke-width="2" stroke-linejoin="round" points="504.57,401.43 545.33,410.18 586.08,376.11 626.83,365.43 667.58,401.53 708.33,399.50 749.08,358.11 789.83,396.04"/>
<circle cx="504.57" cy="401.43" r="2.7" fill="#f5a763"/>
<circle cx="545.33" cy="410.18" r="2.7" fill="#f5a763"/>
<circle cx="586.08" cy="376.11" r="2.7" fill="#f5a763"/>
<circle cx="626.83" cy="365.43" r="2.7" fill="#f5a763"/>
<circle cx="667.58" cy="401.53" r="2.7" fill="#f5a763"/>
<circle cx="708.33" cy="399.50" r="2.7" fill="#f5a763"/>
<circle cx="749.08" cy="358.11" r="2.7" fill="#f5a763"/>
<circle cx="789.83" cy="396.04" r="2.7" fill="#f5a763"/>
<rect x="493.32" y="418.40" width="22.52" height="10.00" fill="#ffffff" />
<text transform="translate(504.57 0) scale(0.97 1)" x="0" y="426.48" font-size="8.99" fill="#a6c9ec" text-anchor="middle">1,398</text>
<rect x="534.07" y="376.30" width="22.52" height="10.00" fill="#ffffff" />
<text transform="translate(545.33 0) scale(0.97 1)" x="0" y="384.38" font-size="8.99" fill="#a6c9ec" text-anchor="middle">3,474</text>
<rect x="574.82" y="378.00" width="22.52" height="10.00" fill="#ffffff" />
<text transform="translate(586.08 0) scale(0.97 1)" x="0" y="386.08" font-size="8.99" fill="#a6c9ec" text-anchor="middle">3,433</text>
<rect x="615.57" y="354.00" width="22.52" height="10.00" fill="#ffffff" />
<text transform="translate(626.83 0) scale(0.97 1)" x="0" y="362.08" font-size="8.99" fill="#a6c9ec" text-anchor="middle">4,619</text>
<rect x="656.32" y="402.30" width="22.52" height="10.00" fill="#ffffff" />
<text transform="translate(667.58 0) scale(0.97 1)" x="0" y="410.38" font-size="8.99" fill="#a6c9ec" text-anchor="middle">2,313</text>
<rect x="697.07" y="422.40" width="22.52" height="10.00" fill="#ffffff" />
<text transform="translate(708.33 0) scale(0.97 1)" x="0" y="430.48" font-size="8.99" fill="#a6c9ec" text-anchor="middle">1,205</text>
<rect x="741.40" y="439.70" width="15.34" height="10.00" fill="#ffffff" />
<text transform="translate(749.08 0) scale(0.97 1)" x="0" y="447.78" font-size="8.99" fill="#a6c9ec" text-anchor="middle">297</text>
<rect x="778.57" y="382.00" width="22.52" height="10.00" fill="#ffffff" />
<text transform="translate(789.83 0) scale(0.97 1)" x="0" y="390.08" font-size="8.99" fill="#a6c9ec" text-anchor="middle">3,189</text>
<text x="504.57" y="471.39" font-size="8.4" fill="#555555" text-anchor="middle" textLength="25.00" lengthAdjust="spacingAndGlyphs"  stroke="#555555" stroke-width="0.18">第29期</text>
<text x="504.57" y="479.73" font-size="6.4" fill="#555555" text-anchor="middle" textLength="37.00" lengthAdjust="spacingAndGlyphs"  stroke="#555555" stroke-width="0.14">2019年2月期</text>
<text x="545.33" y="471.39" font-size="8.4" fill="#555555" text-anchor="middle" textLength="25.00" lengthAdjust="spacingAndGlyphs"  stroke="#555555" stroke-width="0.18">第30期</text>
<text x="545.33" y="479.73" font-size="6.4" fill="#555555" text-anchor="middle" textLength="37.00" lengthAdjust="spacingAndGlyphs"  stroke="#555555" stroke-width="0.14">2019年8月期</text>
<text x="586.08" y="471.39" font-size="8.4" fill="#555555" text-anchor="middle" textLength="25.00" lengthAdjust="spacingAndGlyphs"  stroke="#555555" stroke-width="0.18">第31期</text>
<text x="586.08" y="479.73" font-size="6.4" fill="#555555" text-anchor="middle" textLength="37.00" lengthAdjust="spacingAndGlyphs"  stroke="#555555" stroke-width="0.14">2020年2月期</text>
<text x="626.83" y="471.39" font-size="8.4" fill="#555555" text-anchor="middle" textLength="25.00" lengthAdjust="spacingAndGlyphs"  stroke="#555555" stroke-width="0.18">第32期</text>
<text x="626.83" y="479.73" font-size="6.4" fill="#555555" text-anchor="middle" textLength="37.00" lengthAdjust="spacingAndGlyphs"  stroke="#555555" stroke-width="0.14">2020年8月期</text>
<text x="667.58" y="471.39" font-size="8.4" fill="#555555" text-anchor="middle" textLength="25.00" lengthAdjust="spacingAndGlyphs"  stroke="#555555" stroke-width="0.18">第33期</text>
<text x="667.58" y="479.73" font-size="6.4" fill="#555555" text-anchor="middle" textLength="37.00" lengthAdjust="spacingAndGlyphs"  stroke="#555555" stroke-width="0.14">2021年2月期</text>
<text x="708.33" y="471.39" font-size="8.4" fill="#555555" text-anchor="middle" textLength="25.00" lengthAdjust="spacingAndGlyphs"  stroke="#555555" stroke-width="0.18">第34期</text>
<text x="708.33" y="479.73" font-size="6.4" fill="#555555" text-anchor="middle" textLength="37.00" lengthAdjust="spacingAndGlyphs"  stroke="#555555" stroke-width="0.14">2021年8月期</text>
<text x="749.08" y="471.39" font-size="8.4" fill="#555555" text-anchor="middle" textLength="25.00" lengthAdjust="spacingAndGlyphs"  stroke="#555555" stroke-width="0.18">第35期</text>
<text x="749.08" y="479.73" font-size="6.4" fill="#555555" text-anchor="middle" textLength="37.00" lengthAdjust="spacingAndGlyphs"  stroke="#555555" stroke-width="0.14">2022年2月期</text>
<text x="789.83" y="471.39" font-size="8.4" fill="#555555" text-anchor="middle" textLength="25.00" lengthAdjust="spacingAndGlyphs"  stroke="#555555" stroke-width="0.18">第36期</text>
<text x="789.83" y="479.73" font-size="6.4" fill="#555555" text-anchor="middle" textLength="37.00" lengthAdjust="spacingAndGlyphs"  stroke="#555555" stroke-width="0.14">2022年8月期</text>
<line x1="484.80" y1="486.60" x2="810.20" y2="486.60" stroke="#b5b5b5" stroke-width="0.9" />
<line x1="484.80" y1="501.20" x2="810.20" y2="501.20" stroke="#b5b5b5" stroke-width="0.9" />
<line x1="484.80" y1="515.60" x2="810.20" y2="515.60" stroke="#b5b5b5" stroke-width="0.9" />
<rect x="484.80" y="516.90" width="325.40" height="13.90" fill="#d4e4f5" />
<line x1="524.95" y1="486.60" x2="524.95" y2="515.60" stroke="#b5b5b5" stroke-width="0.8" />
<line x1="524.95" y1="516.90" x2="524.95" y2="530.80" stroke="#ffffff" stroke-width="1" />
<line x1="565.70" y1="486.60" x2="565.70" y2="515.60" stroke="#b5b5b5" stroke-width="0.8" />
<line x1="565.70" y1="516.90" x2="565.70" y2="530.80" stroke="#ffffff" stroke-width="1" />
<line x1="606.45" y1="486.60" x2="606.45" y2="515.60" stroke="#b5b5b5" stroke-width="0.8" />
<line x1="606.45" y1="516.90" x2="606.45" y2="530.80" stroke="#ffffff" stroke-width="1" />
<line x1="647.20" y1="486.60" x2="647.20" y2="515.60" stroke="#b5b5b5" stroke-width="0.8" />
<line x1="647.20" y1="516.90" x2="647.20" y2="530.80" stroke="#ffffff" stroke-width="1" />
<line x1="687.95" y1="486.60" x2="687.95" y2="515.60" stroke="#b5b5b5" stroke-width="0.8" />
<line x1="687.95" y1="516.90" x2="687.95" y2="530.80" stroke="#ffffff" stroke-width="1" />
<line x1="728.70" y1="486.60" x2="728.70" y2="515.60" stroke="#b5b5b5" stroke-width="0.8" />
<line x1="728.70" y1="516.90" x2="728.70" y2="530.80" stroke="#ffffff" stroke-width="1" />
<line x1="769.45" y1="486.60" x2="769.45" y2="515.60" stroke="#b5b5b5" stroke-width="0.8" />
<line x1="769.45" y1="516.90" x2="769.45" y2="530.80" stroke="#ffffff" stroke-width="1" />
<line x1="810.20" y1="486.60" x2="810.20" y2="515.60" stroke="#b5b5b5" stroke-width="0.8" />
<text x="459.30" y="495.71" font-size="6.6" fill="#555555" text-anchor="middle" textLength="39.50" lengthAdjust="spacingAndGlyphs"  stroke="#555555" stroke-width="0.15">契約更改件数</text>
<text x="459.30" y="511.01" font-size="6.6" fill="#555555" text-anchor="middle" textLength="47.50" lengthAdjust="spacingAndGlyphs"  stroke="#555555" stroke-width="0.15">内、増額改定件数</text>
<text x="459.30" y="526.91" font-size="6.6" fill="#555555" text-anchor="middle" textLength="39.50" lengthAdjust="spacingAndGlyphs"  stroke="#555555" stroke-width="0.15">増額改定割合</text>
<text transform="translate(504.57 0) scale(0.92 1)" x="0" y="497.15" font-size="10.2" fill="#606060" text-anchor="middle">29</text>
<text transform="translate(504.57 0) scale(0.92 1)" x="0" y="512.15" font-size="10.2" fill="#606060" text-anchor="middle">6</text>
<text transform="translate(504.57 0) scale(0.94 1)" x="0" y="527.19" font-size="8.9" fill="#4f5b6c" text-anchor="middle">20.7%</text>
<text transform="translate(545.33 0) scale(0.92 1)" x="0" y="497.15" font-size="10.2" fill="#606060" text-anchor="middle">34</text>
<text transform="translate(545.33 0) scale(0.92 1)" x="0" y="512.15" font-size="10.2" fill="#606060" text-anchor="middle">16</text>
<text transform="translate(545.33 0) scale(0.94 1)" x="0" y="527.19" font-size="8.9" fill="#4f5b6c" text-anchor="middle">47.1%</text>
<text transform="translate(586.08 0) scale(0.92 1)" x="0" y="497.15" font-size="10.2" fill="#606060" text-anchor="middle">30</text>
<text transform="translate(586.08 0) scale(0.92 1)" x="0" y="512.15" font-size="10.2" fill="#606060" text-anchor="middle">10</text>
<text transform="translate(586.08 0) scale(0.94 1)" x="0" y="527.19" font-size="8.9" fill="#4f5b6c" text-anchor="middle">33.3%</text>
<text transform="translate(626.83 0) scale(0.92 1)" x="0" y="497.15" font-size="10.2" fill="#606060" text-anchor="middle">36</text>
<text transform="translate(626.83 0) scale(0.92 1)" x="0" y="512.15" font-size="10.2" fill="#606060" text-anchor="middle">14</text>
<text transform="translate(626.83 0) scale(0.94 1)" x="0" y="527.19" font-size="8.9" fill="#4f5b6c" text-anchor="middle">38.9%</text>
<text transform="translate(667.58 0) scale(0.92 1)" x="0" y="497.15" font-size="10.2" fill="#606060" text-anchor="middle">20</text>
<text transform="translate(667.58 0) scale(0.92 1)" x="0" y="512.15" font-size="10.2" fill="#606060" text-anchor="middle">8</text>
<text transform="translate(667.58 0) scale(0.94 1)" x="0" y="527.19" font-size="8.9" fill="#4f5b6c" text-anchor="middle">40.0%</text>
<text transform="translate(708.33 0) scale(0.92 1)" x="0" y="497.15" font-size="10.2" fill="#606060" text-anchor="middle">31</text>
<text transform="translate(708.33 0) scale(0.92 1)" x="0" y="512.15" font-size="10.2" fill="#606060" text-anchor="middle">6</text>
<text transform="translate(708.33 0) scale(0.94 1)" x="0" y="527.19" font-size="8.9" fill="#4f5b6c" text-anchor="middle">19.4%</text>
<text transform="translate(749.08 0) scale(0.92 1)" x="0" y="497.15" font-size="10.2" fill="#606060" text-anchor="middle">35</text>
<text transform="translate(749.08 0) scale(0.92 1)" x="0" y="512.15" font-size="10.2" fill="#606060" text-anchor="middle">6</text>
<text transform="translate(749.08 0) scale(0.94 1)" x="0" y="527.19" font-size="8.9" fill="#4f5b6c" text-anchor="middle">17.1%</text>
<text transform="translate(789.83 0) scale(0.92 1)" x="0" y="497.15" font-size="10.2" fill="#606060" text-anchor="middle">37</text>
<text transform="translate(789.83 0) scale(0.92 1)" x="0" y="512.15" font-size="10.2" fill="#606060" text-anchor="middle">12</text>
<text transform="translate(789.83 0) scale(0.94 1)" x="0" y="527.19" font-size="8.9" fill="#4f5b6c" text-anchor="middle">32.4%</text>
<text x="434.30" y="539.72" font-size="4.8" fill="#555555" textLength="156.00" lengthAdjust="spacingAndGlyphs"  stroke="#555555" stroke-width="0.11">(注4) 賃料改定時の従前賃料に対する賃料増減率を算出しています。</text>
<text transform="translate(11.50 0) scale(0.86 1)" x="0" y="567.80" font-size="15.7" fill="#aab3e3" font-weight="bold">Fukuoka</text>
<text transform="translate(71.50 0) scale(1.0 1)" x="0" y="567.40" font-size="9.2" fill="#c6c8d0" textLength="22.80" lengthAdjust="spacing">REIT</text>
<rect x="717.40" y="554.40" width="85.60" height="14.20" fill="#bdd5ef" />
<rect x="717.40" y="554.40" width="4.20" height="14.20" fill="#2f4d8d" />
<rect x="798.60" y="554.40" width="4.40" height="14.20" fill="#2f4d8d" />
<text transform="translate(758.80 0) scale(0.97 1)" x="0" y="565.64" font-size="10.03" fill="#2c4a8c" text-anchor="middle">Appendix</text>
<rect x="807.80" y="554.40" width="14.50" height="14.20" fill="#2f4d8d" />
<text transform="translate(815.00 0) scale(0.97 1)" x="0" y="565.32" font-size="10.87" fill="#ffffff" text-anchor="middle" font-weight="bold">51</text>
</svg>
</body></html>
